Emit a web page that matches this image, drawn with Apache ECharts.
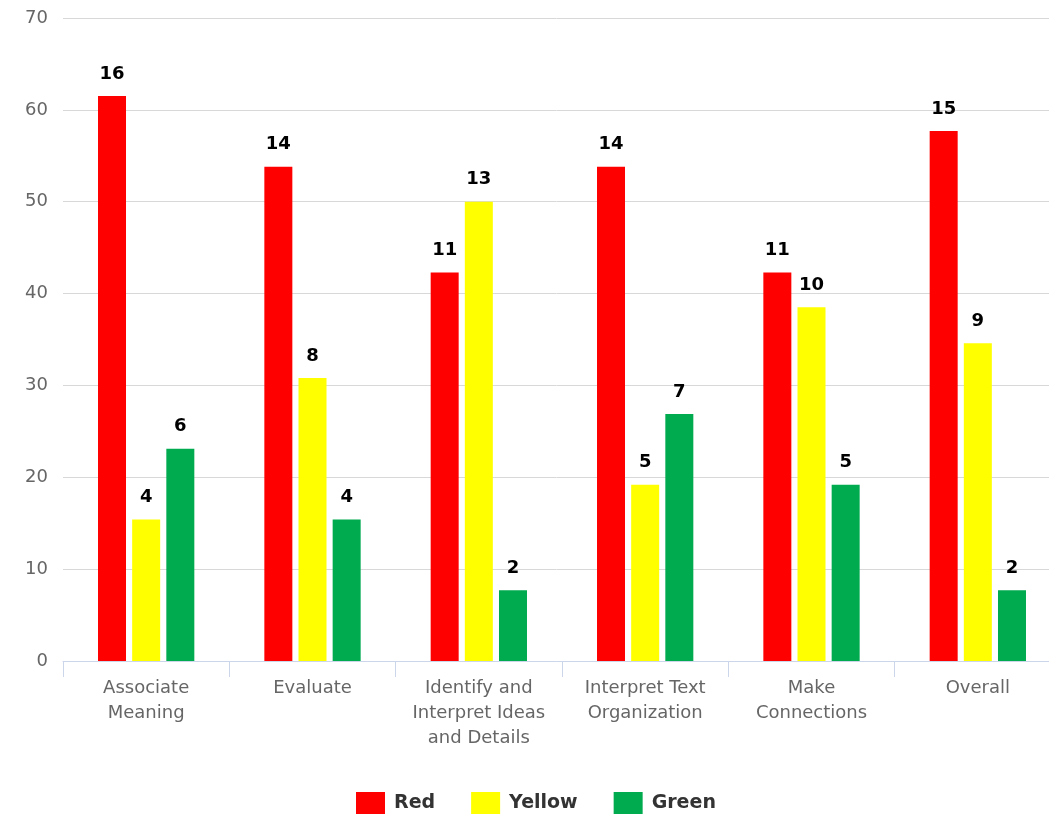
<!DOCTYPE html>
<html><head><meta charset="utf-8">
<script src="https://cdn.jsdelivr.net/npm/echarts@6/dist/echarts.min.js"></script>
<style>html,body{margin:0;padding:0;background:#fff;overflow:hidden}#c{width:1049px;height:817px}</style>
</head><body><div id="c"></div>
<script>
const categories = ['Associate\nMeaning', 'Evaluate', 'Identify and\nInterpret Ideas\nand Details', 'Interpret Text\nOrganization', 'Make\nConnections', 'Overall'];
const redPct = [61.5, 53.8, 42.3, 53.8, 42.3, 57.7];
const yellowPct = [15.4, 30.8, 50.0, 19.2, 38.5, 34.6];
const greenPct = [23.1, 15.4, 7.7, 26.9, 19.2, 7.7];
const redCount = [16, 14, 11, 14, 11, 15];
const yellowCount = [4, 8, 13, 5, 10, 9];
const greenCount = [6, 4, 2, 7, 5, 2];

const font = 'DejaVu Sans';
function mk(name, color, vals, counts) {
  return {
    name, type: 'bar', barWidth: 28, barGap: '22%',
    itemStyle: { color },
    data: vals,
    label: {
      show: true, position: 'top', distance: 13,
      fontFamily: font, fontWeight: 'bold', fontSize: 18, color: '#000',
      formatter: p => counts[p.dataIndex]
    }
  };
}
const chart = echarts.init(document.getElementById('c'));
chart.setOption({
  animation: false,
  textStyle: { fontFamily: font },
  grid: { left: 63, width: 998, top: 18, height: 643, containLabel: false, outerBoundsMode: 'none' },
  legend: {
    top: 787, left: 351, itemWidth: 29, itemHeight: 22, itemGap: 36,
    icon: 'rect',
    textStyle: { fontFamily: font, fontWeight: 'bold', fontSize: 19, color: '#333', padding: [0, 0, 0, 4] },
    data: ['Red', 'Yellow', 'Green']
  },
  xAxis: {
    type: 'category', data: categories,
    axisLine: { lineStyle: { color: '#ccd6eb', width: 1 } },
    axisTick: { show: true, length: 16, lineStyle: { color: '#ccd6eb' } },
    axisLabel: { fontFamily: font, fontSize: 18, color: '#666', lineHeight: 25, margin: 15, interval: 0 }
  },
  yAxis: {
    type: 'value', min: 0, max: 70, interval: 10,
    splitLine: { lineStyle: { color: '#d8d8d8' } },
    axisLine: { show: false }, axisTick: { show: false },
    axisLabel: { fontFamily: font, fontSize: 18, color: '#666', margin: 15 }
  },
  series: [
    mk('Red', '#ff0000', redPct, redCount),
    mk('Yellow', '#ffff00', yellowPct, yellowCount),
    mk('Green', '#00aa4f', greenPct, greenCount)
  ]
});
</script></body></html>
